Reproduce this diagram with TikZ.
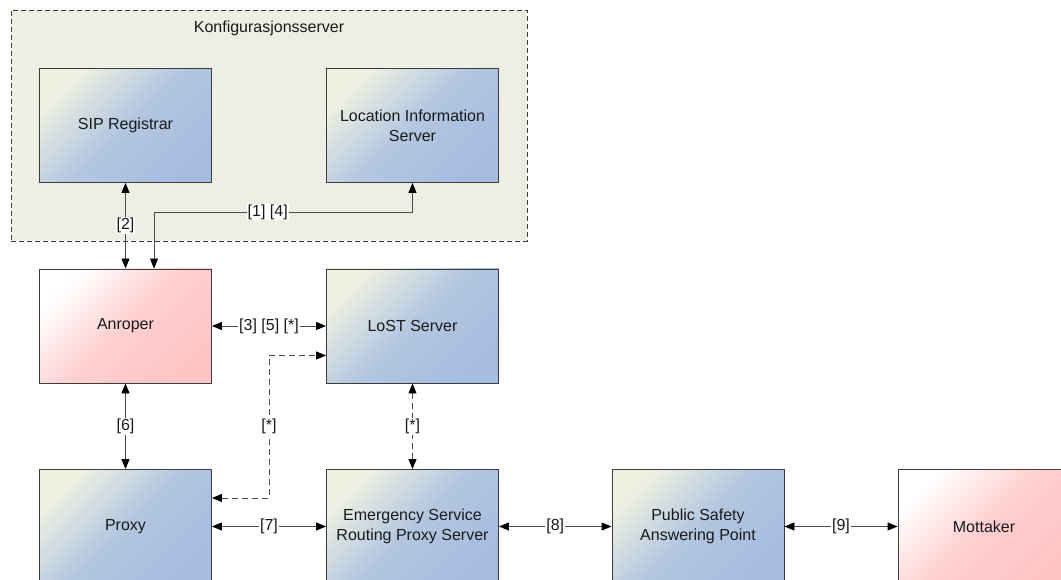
\documentclass[tikz,border=0pt]{standalone}
\usepackage{fontspec}
\setmainfont{Liberation Sans}
\usetikzlibrary{arrows.meta}

\definecolor{cfgfill}{HTML}{EEEFE4}
\definecolor{boxline}{HTML}{3C3C3C}
\definecolor{conn}{HTML}{4A4A4A}
\definecolor{txt}{HTML}{1A1A1A}
\definecolor{blueA}{HTML}{EEF0E2}
\definecolor{blueB}{HTML}{A6BDE0}
\definecolor{pinkA}{HTML}{FFFFFF}
\definecolor{pinkB}{HTML}{FFC5C5}

\begin{document}
\begin{tikzpicture}[x=1pt,y=-1pt,
  basefont/.style={font=\fontsize{16}{20}\selectfont, text=txt},
  box/.style={basefont, draw=boxline, line width=0.9pt, minimum width=172pt,
    minimum height=114pt, align=center, inner sep=2pt},
  bluebox/.style={box, top color=blueA, bottom color=blueB,
    middle color=blueB!82!blueA, shading angle=45},
  pinkbox/.style={box, top color=pinkA, bottom color=pinkB,
    middle color=pinkB!82!pinkA, shading angle=45},
  container/.style={draw=boxline, fill=cfgfill, line width=0.8pt,
    dash pattern=on 5pt off 3pt, minimum width=516pt, minimum height=231pt},
  tip/.tip={Triangle[length=10pt,width=8pt,color=black]},
  arr/.style={draw=conn, line width=0.9pt, tip-tip},
  dashdash/.style={dash pattern=on 6pt off 4pt},
  lbl/.style={basefont, fill=white, inner sep=1pt},
]
\useasboundingbox (0,0) rectangle (1061,580);
\clip (0,0) rectangle (1061,580);
\fill[white] (0,0) rectangle (1061,580);

% configuration server group
\node[container] (cfg) at (269,125.5) {};
\node[basefont] (cfgtitle) at (269,28) {Konfigurasjonsserver};

% components
\node[bluebox] (sip)   at (125.5,125.5) {SIP Registrar};
\node[bluebox] (lis)   at (412.5,125.5) {Location Information\\Server};
\node[pinkbox] (anr)   at (125.5,326)   {Anroper};
\node[bluebox] (lost)  at (412.5,326)   {LoST Server};
\node[bluebox] (proxy) at (125.5,526.5) {Proxy};
\node[bluebox] (esrp)  at (412.5,526.5) {Emergency Service\\Routing Proxy Server};
\node[bluebox] (psap)  at (698,526.5)   {Public Safety\\Answering Point};
\node[pinkbox] (mott)  at (984,526.5)   {Mottaker};

% connectors
\draw[arr] (sip.south) -- node[lbl]{[2]} (anr.north);

\coordinate (k14) at (154,212);
\draw[arr] (anr.north -| k14) -- (k14) -- node[lbl,pos=0.44]{[1] [4]} (k14 -| lis.south) -- (lis.south);

\draw[arr] (anr.east) -- node[lbl]{[3] [5] [*]} (lost.west);

\coordinate (dlo) at (269,498);
\coordinate (dhi) at (269,355.5);
\draw[arr,dashdash] (proxy.east |- dlo) -- (dlo) -- node[lbl]{[*]} (dhi) -- (dhi -| lost.west);

\draw[arr,dashdash] (lost.south) -- node[lbl]{[*]} (esrp.north);

\draw[arr] (anr.south) -- node[lbl]{[6]} (proxy.north);
\draw[arr] (proxy.east) -- node[lbl]{[7]} (esrp.west);
\draw[arr] (esrp.east) -- node[lbl]{[8]} (psap.west);
\draw[arr] (psap.east) -- node[lbl]{[9]} (mott.west);
\end{tikzpicture}
\end{document}
